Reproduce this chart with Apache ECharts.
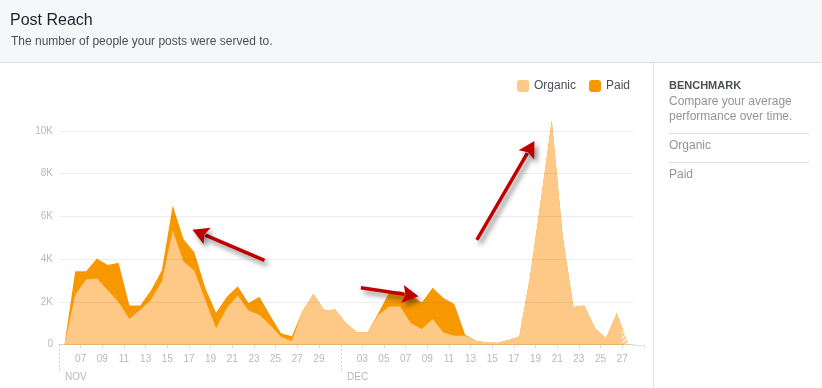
<!DOCTYPE html>
<html><head><meta charset="utf-8">
<script src="https://cdn.jsdelivr.net/npm/echarts@6/dist/echarts.min.js"></script>
<style>html,body{margin:0;padding:0;background:#fff}#c{width:822px;height:388px}</style>
</head><body><div id="c"></div>
<script>
// Days: Nov 05 .. Dec 27 (53 days)
const organic = [0,2340,3050,3100,2550,2000,1200,1640,2100,2970,5330,3890,3460,2100,770,1720,2300,1600,1400,920,370,170,1590,2390,1600,1650,
  1010,580,580,1400,1790,1790,1000,740,1200,570,420,420,180,100,90,220,380,3200,6800,10500,5100,1760,1830,770,300,1480,100];
const paid = [0,1100,390,930,1180,1840,630,190,450,510,1180,1050,870,560,730,520,440,350,840,450,170,230,0,0,0,0,
  0,0,0,100,660,710,1300,1240,1460,1620,1480,40,0,0,0,0,0,0,0,0,0,0,0,0,0,0,0];
const tickLabels = ['', '07','09','11','13','15','17','19','21','23','25','27','29','', '03','05','07','09','11','13','15','17','19','21','23','25','27'];
const monthNames = ['NOV','DEC'];
const monthStarts = [0, 26];
const seriesNames = ['Organic','Paid'];
// annotation arrows: [tailDay, tailValue, tipDay, tipValue]
const arrows = [[18.97,3950,12.32,5380],[27.87,2660,33.18,2264],[38.58,4906,43.9,9530]];

const FONT = 'Liberation Sans, Arial, sans-serif';
const cOrg = '#fec886', cPaid = '#f79800';
const chart = echarts.init(document.getElementById('c'), null, {renderer:'canvas'});
const nDays = organic.length;
const tickVals = tickLabels.map((t,i)=>i*2);
const shownTicks = tickVals.filter(v=>tickLabels[v/2] !== '');
// paid is stacked on top of organic
const total = organic.map((v,i)=>v+paid[i]);
chart.setOption({
  animation:false,
  grid:{left:59, right:189, top:131, bottom:43.3},
  legend:{left:517, top:80, padding:0, itemWidth:12, itemHeight:12, itemGap:13, icon:'roundRect',
    textStyle:{color:'#4b4f56', fontSize:12, fontFamily:FONT}, data:seriesNames},
  xAxis:{type:'value', min:0, max:nDays,
    axisLine:{lineStyle:{color:'#dddfe2'}},
    axisTick:{length:4, lineStyle:{color:'#dddfe2'}, customValues: shownTicks},
    axisLabel:{color:'#b4b8bf', fontSize:10, fontFamily:FONT, margin:10, customValues: shownTicks,
      formatter:v=>{const i=Math.round(v/2); return (v%2===0 && tickLabels[i]!==undefined)?tickLabels[i]:'';}},
    splitLine:{show:false}},
  yAxis:{type:'value', min:0, max:10000, interval:2000, z:5,
    axisLine:{show:false}, axisTick:{show:false},
    axisLabel:{color:'#b4b8bf', fontSize:10, fontFamily:FONT, margin:6,
      formatter:v=> v===0 ? '0' : (v/1000)+'K'},
    splitLine:{lineStyle:{color:'rgba(40,50,70,0.09)'}}},
  series:[
    {name:seriesNames[1], type:'line', clip:false, showSymbol:false, symbol:'none', z:2,
      lineStyle:{width:0}, itemStyle:{color:cPaid}, areaStyle:{color:cPaid, opacity:1},
      data: total.map((v,i)=>[i+0.5, v])},
    {name:seriesNames[0], type:'line', clip:false, showSymbol:false, symbol:'none', z:3,
      lineStyle:{width:0}, itemStyle:{color:cOrg}, areaStyle:{color:cOrg, opacity:1},
      data: organic.map((v,i)=>[i+0.5, v])}
  ]
});

const px = (x,y)=>chart.convertToPixel({gridIndex:0},[x,y]);
const g = [];
// header
g.push({type:'rect', shape:{x:0,y:0,width:822,height:62}, style:{fill:'#f6f7f9'}, z:-10});
g.push({type:'line', shape:{x1:0,y1:62.5,x2:822,y2:62.5}, style:{stroke:'#dddfe2', lineWidth:1}});
g.push({type:'text', x:10, y:21, style:{text:'Post Reach', fill:'#1d2129', font:'16px '+FONT, verticalAlign:'middle'}});
g.push({type:'text', x:11, y:41.5, style:{text:'The number of people your posts were served to.', fill:'#4b4f56', font:'12px '+FONT, verticalAlign:'middle'}});
// right panel
g.push({type:'line', shape:{x1:653.5,y1:63,x2:653.5,y2:388}, style:{stroke:'#dddfe2', lineWidth:1}});
g.push({type:'text', x:669, y:85.5, style:{text:'BENCHMARK', fill:'#4b4f56', font:'bold 11px '+FONT, verticalAlign:'middle'}});
g.push({type:'text', x:669, y:101.5, style:{text:'Compare your average', fill:'#90949c', font:'12px '+FONT, verticalAlign:'middle'}});
g.push({type:'text', x:669, y:116.5, style:{text:'performance over time.', fill:'#90949c', font:'12px '+FONT, verticalAlign:'middle'}});
g.push({type:'line', shape:{x1:669,y1:133.5,x2:809,y2:133.5}, style:{stroke:'#dddfe2', lineWidth:1}});
g.push({type:'text', x:669, y:145.8, style:{text:seriesNames[0], fill:'#90949c', font:'12px '+FONT, verticalAlign:'middle'}});
g.push({type:'line', shape:{x1:669,y1:162.5,x2:809,y2:162.5}, style:{stroke:'#dddfe2', lineWidth:1}});
g.push({type:'text', x:669, y:174.8, style:{text:seriesNames[1], fill:'#90949c', font:'12px '+FONT, verticalAlign:'middle'}});
// month separators
const base = px(0,0)[1];
monthStarts.forEach((d,k)=>{
  const x = Math.round(px(d,0)[0])+0.5;
  g.push({type:'line', shape:{x1:x,y1:base,x2:x,y2:base+27}, style:{stroke:'#ccd0d5', lineWidth:1, lineDash:[2,2]}});
  g.push({type:'text', x:x+5.5, y:base+32.5, style:{text:monthNames[k], fill:'#b4b8bf', font:'10px '+FONT, verticalAlign:'middle'}});
});
// axis extension
{
  const xe = px(nDays,0)[0], xe2 = px(nDays+1,0)[0];
  g.push({type:'line', shape:{x1:xe,y1:Math.round(base)+0.5,x2:xe2,y2:Math.round(base)+0.5}, style:{stroke:'#dddfe2', lineWidth:1}});
  g.push({type:'line', shape:{x1:Math.round(xe2)+0.5,y1:base,x2:Math.round(xe2)+0.5,y2:base+4}, style:{stroke:'#dddfe2', lineWidth:1}});
}
// hatch on the last (incomplete) day
{
  const cv = document.createElement('canvas'); cv.width = 5; cv.height = 5;
  const ctx = cv.getContext('2d'); ctx.strokeStyle = 'rgba(255,255,255,0.95)'; ctx.lineWidth = 1.3;
  ctx.beginPath(); ctx.moveTo(-1,6); ctx.lineTo(6,-1); ctx.stroke();
  ctx.beginPath(); ctx.moveTo(-1,1); ctx.lineTo(1,-1); ctx.stroke();
  ctx.beginPath(); ctx.moveTo(4,6); ctx.lineTo(6,4); ctx.stroke();
  const n = nDays-1;
  const a = px(n,0), b = px(n,(total[n-1]+total[n])/2), c = px(n+0.5,total[n]), d = px(n+0.5,0);
  g.push({type:'polygon', shape:{points:[a,b,c,d]}, style:{fill:{image:cv, repeat:'repeat'}}, z:10});
}
// annotation arrows
arrows.forEach(ar=>{
  const t = px(ar[0],ar[1]), h = px(ar[2],ar[3]);
  const dx = h[0]-t[0], dy = h[1]-t[1], L = Math.hypot(dx,dy);
  const ux = dx/L, uy = dy/L, nx = -uy, ny = ux;
  const HL = 17, HW = 9;
  const bx = h[0]-ux*HL, by = h[1]-uy*HL;
  const sh = {shadowBlur:5, shadowOffsetX:3, shadowOffsetY:4, shadowColor:'rgba(0,0,0,0.45)'};
  g.push({type:'line', shape:{x1:t[0],y1:t[1],x2:bx+ux*3,y2:by+uy*3}, style:Object.assign({stroke:'#c00000', lineWidth:3.5}, sh), z:20});
  g.push({type:'polygon', shape:{points:[[h[0],h[1]],[bx+nx*HW+ux*1,by+ny*HW+uy*1],[bx+ux*4,by+uy*4],[bx-nx*HW+ux*1,by-ny*HW+uy*1]]},
    style:Object.assign({fill:'#c00000'}, sh), z:20});
});
chart.setOption({graphic:g});
</script></body></html>
